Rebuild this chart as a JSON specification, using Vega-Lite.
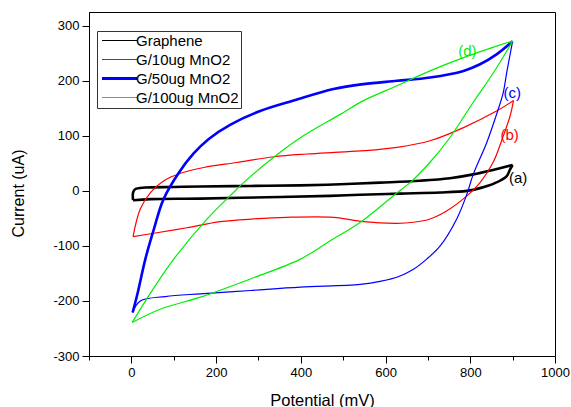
{
  "$schema": "https://vega.github.io/schema/vega-lite/v6.json",
  "width": 466,
  "height": 344,
  "autosize": {"type": "none"},
  "padding": {"left": 89, "top": 12, "right": 16, "bottom": 51},
  "background": "white",
  "config": {
    "view": {"stroke": "black", "strokeWidth": 1},
    "font": "Liberation Sans",
    "axis": {"grid": false, "domainColor": "black", "tickColor": "black", "labelColor": "black", "titleColor": "black", "labelFont": "Liberation Sans", "titleFont": "Liberation Sans", "titleFontWeight": "normal", "labelFontSize": 13, "labelFlush": false, "labelOverlap": false, "labelBound": false}
  },
  "datasets": {
    "cv": [
      {"s":"Graphene","dir":"f","i":1,"v":4,"c":-17},{"s":"Graphene","dir":"f","i":2,"v":4,"c":-3},{"s":"Graphene","dir":"f","i":3,"v":9,"c":3},{"s":"Graphene","dir":"f","i":4,"v":33,"c":6},{"s":"Graphene","dir":"f","i":5,"v":100,"c":7},{"s":"Graphene","dir":"f","i":6,"v":163,"c":8},{"s":"Graphene","dir":"f","i":7,"v":281,"c":9},{"s":"Graphene","dir":"f","i":8,"v":399,"c":10},{"s":"Graphene","dir":"f","i":9,"v":493,"c":12},{"s":"Graphene","dir":"f","i":10,"v":587,"c":15},{"s":"Graphene","dir":"f","i":11,"v":682,"c":18.5},{"s":"Graphene","dir":"f","i":12,"v":752,"c":23},{"s":"Graphene","dir":"f","i":13,"v":807,"c":30},{"s":"Graphene","dir":"f","i":14,"v":858,"c":39},{"s":"Graphene","dir":"f","i":15,"v":900,"c":47},
      {"s":"Graphene","dir":"r","i":16,"v":900,"c":47},{"s":"Graphene","dir":"r","i":17,"v":894,"c":39},{"s":"Graphene","dir":"r","i":18,"v":886,"c":27},{"s":"Graphene","dir":"r","i":19,"v":858,"c":14},{"s":"Graphene","dir":"r","i":20,"v":823,"c":5},{"s":"Graphene","dir":"r","i":21,"v":792,"c":0},{"s":"Graphene","dir":"r","i":22,"v":729,"c":-3},{"s":"Graphene","dir":"r","i":23,"v":634,"c":-5},{"s":"Graphene","dir":"r","i":24,"v":540,"c":-7},{"s":"Graphene","dir":"r","i":25,"v":469,"c":-9},{"s":"Graphene","dir":"r","i":26,"v":351,"c":-11},{"s":"Graphene","dir":"r","i":27,"v":163,"c":-14},{"s":"Graphene","dir":"r","i":28,"v":45,"c":-15},{"s":"Graphene","dir":"r","i":29,"v":4,"c":-17},

      {"s":"G/10ug MnO2","dir":"f","i":1,"v":4,"c":-83},{"s":"G/10ug MnO2","dir":"f","i":2,"v":21,"c":-33},{"s":"G/10ug MnO2","dir":"f","i":3,"v":45,"c":-3},{"s":"G/10ug MnO2","dir":"f","i":4,"v":76,"c":18},{"s":"G/10ug MnO2","dir":"f","i":5,"v":116,"c":32},{"s":"G/10ug MnO2","dir":"f","i":6,"v":171,"c":42.5},{"s":"G/10ug MnO2","dir":"f","i":7,"v":249,"c":51.6},{"s":"G/10ug MnO2","dir":"f","i":8,"v":336,"c":62},{"s":"G/10ug MnO2","dir":"f","i":9,"v":414,"c":67},{"s":"G/10ug MnO2","dir":"f","i":10,"v":480,"c":70},{"s":"G/10ug MnO2","dir":"f","i":11,"v":550,"c":73},{"s":"G/10ug MnO2","dir":"f","i":12,"v":627,"c":79},{"s":"G/10ug MnO2","dir":"f","i":13,"v":705,"c":91},{"s":"G/10ug MnO2","dir":"f","i":14,"v":784,"c":115},{"s":"G/10ug MnO2","dir":"f","i":15,"v":862,"c":145},{"s":"G/10ug MnO2","dir":"f","i":16,"v":902,"c":164},
      {"s":"G/10ug MnO2","dir":"r","i":17,"v":902,"c":164},{"s":"G/10ug MnO2","dir":"r","i":18,"v":894,"c":136},{"s":"G/10ug MnO2","dir":"r","i":19,"v":878,"c":100},{"s":"G/10ug MnO2","dir":"r","i":20,"v":854,"c":52},{"s":"G/10ug MnO2","dir":"r","i":21,"v":823,"c":15},{"s":"G/10ug MnO2","dir":"r","i":22,"v":792,"c":-9},{"s":"G/10ug MnO2","dir":"r","i":23,"v":745,"c":-36},{"s":"G/10ug MnO2","dir":"r","i":24,"v":705,"c":-51},{"s":"G/10ug MnO2","dir":"r","i":25,"v":666,"c":-57},{"s":"G/10ug MnO2","dir":"r","i":26,"v":627,"c":-59},{"s":"G/10ug MnO2","dir":"r","i":27,"v":548,"c":-56},{"s":"G/10ug MnO2","dir":"r","i":28,"v":477,"c":-48},{"s":"G/10ug MnO2","dir":"r","i":29,"v":367,"c":-48},{"s":"G/10ug MnO2","dir":"r","i":30,"v":289,"c":-51},{"s":"G/10ug MnO2","dir":"r","i":31,"v":210,"c":-56},{"s":"G/10ug MnO2","dir":"r","i":32,"v":131,"c":-67},{"s":"G/10ug MnO2","dir":"r","i":33,"v":53,"c":-77},{"s":"G/10ug MnO2","dir":"r","i":34,"v":4,"c":-83},

      {"s":"G/50ug MnO2","dir":"f","i":1,"v":3,"c":-221},{"s":"G/50ug MnO2","dir":"f","i":2,"v":15,"c":-185},{"s":"G/50ug MnO2","dir":"f","i":3,"v":33,"c":-124},{"s":"G/50ug MnO2","dir":"f","i":4,"v":53,"c":-70},{"s":"G/50ug MnO2","dir":"f","i":5,"v":76,"c":-15},{"s":"G/50ug MnO2","dir":"f","i":6,"v":112,"c":33},{"s":"G/50ug MnO2","dir":"f","i":7,"v":147,"c":68},{"s":"G/50ug MnO2","dir":"f","i":8,"v":182,"c":94},{"s":"G/50ug MnO2","dir":"f","i":9,"v":233,"c":120},{"s":"G/50ug MnO2","dir":"f","i":10,"v":304,"c":145},{"s":"G/50ug MnO2","dir":"f","i":11,"v":383,"c":164},{"s":"G/50ug MnO2","dir":"f","i":12,"v":477,"c":185},{"s":"G/50ug MnO2","dir":"f","i":13,"v":548,"c":194},{"s":"G/50ug MnO2","dir":"f","i":14,"v":627,"c":200},{"s":"G/50ug MnO2","dir":"f","i":15,"v":705,"c":206},{"s":"G/50ug MnO2","dir":"f","i":16,"v":784,"c":218},{"s":"G/50ug MnO2","dir":"f","i":17,"v":823,"c":230},{"s":"G/50ug MnO2","dir":"f","i":18,"v":862,"c":248},{"s":"G/50ug MnO2","dir":"f","i":19,"v":900,"c":272},
      {"s":"G/50ug MnO2","dir":"r","i":20,"v":900,"c":272},{"s":"G/50ug MnO2","dir":"r","i":21,"v":886,"c":215},{"s":"G/50ug MnO2","dir":"r","i":22,"v":878,"c":179},{"s":"G/50ug MnO2","dir":"r","i":23,"v":862,"c":139},{"s":"G/50ug MnO2","dir":"r","i":24,"v":839,"c":88},{"s":"G/50ug MnO2","dir":"r","i":25,"v":807,"c":30},{"s":"G/50ug MnO2","dir":"r","i":26,"v":792,"c":-6},{"s":"G/50ug MnO2","dir":"r","i":27,"v":768,"c":-51},{"s":"G/50ug MnO2","dir":"r","i":28,"v":729,"c":-100},{"s":"G/50ug MnO2","dir":"r","i":29,"v":697,"c":-124},{"s":"G/50ug MnO2","dir":"r","i":30,"v":665,"c":-143},{"s":"G/50ug MnO2","dir":"r","i":31,"v":630,"c":-156},{"s":"G/50ug MnO2","dir":"r","i":32,"v":590,"c":-164},{"s":"G/50ug MnO2","dir":"r","i":33,"v":540,"c":-170},{"s":"G/50ug MnO2","dir":"r","i":34,"v":399,"c":-175},{"s":"G/50ug MnO2","dir":"r","i":35,"v":281,"c":-181},{"s":"G/50ug MnO2","dir":"r","i":36,"v":163,"c":-187},{"s":"G/50ug MnO2","dir":"r","i":37,"v":80,"c":-192},{"s":"G/50ug MnO2","dir":"r","i":38,"v":21,"c":-200},{"s":"G/50ug MnO2","dir":"r","i":39,"v":3,"c":-221},

      {"s":"G/100ug MnO2","dir":"f","i":1,"v":2,"c":-239},{"s":"G/100ug MnO2","dir":"f","i":2,"v":50,"c":-180},{"s":"G/100ug MnO2","dir":"f","i":3,"v":100,"c":-124},{"s":"G/100ug MnO2","dir":"f","i":4,"v":179,"c":-51},{"s":"G/100ug MnO2","dir":"f","i":5,"v":233,"c":-9},{"s":"G/100ug MnO2","dir":"f","i":6,"v":265,"c":15},{"s":"G/100ug MnO2","dir":"f","i":7,"v":336,"c":61},{"s":"G/100ug MnO2","dir":"f","i":8,"v":406,"c":100},{"s":"G/100ug MnO2","dir":"f","i":9,"v":493,"c":139},{"s":"G/100ug MnO2","dir":"f","i":10,"v":548,"c":164},{"s":"G/100ug MnO2","dir":"f","i":11,"v":627,"c":191},{"s":"G/100ug MnO2","dir":"f","i":12,"v":705,"c":218},{"s":"G/100ug MnO2","dir":"f","i":13,"v":784,"c":242},{"s":"G/100ug MnO2","dir":"f","i":14,"v":862,"c":263},{"s":"G/100ug MnO2","dir":"f","i":15,"v":900,"c":272},
      {"s":"G/100ug MnO2","dir":"r","i":16,"v":900,"c":272},{"s":"G/100ug MnO2","dir":"r","i":17,"v":855,"c":215},{"s":"G/100ug MnO2","dir":"r","i":18,"v":807,"c":161},{"s":"G/100ug MnO2","dir":"r","i":19,"v":752,"c":97},{"s":"G/100ug MnO2","dir":"r","i":20,"v":705,"c":52},{"s":"G/100ug MnO2","dir":"r","i":21,"v":658,"c":15},{"s":"G/100ug MnO2","dir":"r","i":22,"v":623,"c":-6},{"s":"G/100ug MnO2","dir":"r","i":23,"v":544,"c":-55},{"s":"G/100ug MnO2","dir":"r","i":24,"v":469,"c":-91},{"s":"G/100ug MnO2","dir":"r","i":25,"v":399,"c":-124},{"s":"G/100ug MnO2","dir":"r","i":26,"v":281,"c":-160},{"s":"G/100ug MnO2","dir":"r","i":27,"v":163,"c":-193},{"s":"G/100ug MnO2","dir":"r","i":28,"v":68,"c":-215},{"s":"G/100ug MnO2","dir":"r","i":29,"v":2,"c":-239}
    ],
    "tags": [
      {"s":"Graphene","t":"(a)","v":913,"c":23},
      {"s":"G/10ug MnO2","t":"(b)","v":893,"c":101},
      {"s":"G/50ug MnO2","t":"(c)","v":899,"c":178},
      {"s":"G/100ug MnO2","t":"(d)","v":793,"c":255}
    ]
  },
  "layer": [
    {
      "data": {"name": "cv"},
      "mark": {"type": "line", "clip": true, "interpolate": "catmull-rom"},
      "encoding": {
        "x": {"field": "v", "type": "quantitative",
          "scale": {"domain": [-100, 1000], "nice": false, "zero": false},
          "axis": {"title": "Potential (mV)", "values": [-100,0,100,200,300,400,500,600,700,800,900,1000],
            "labelExpr": "datum.value % 200 === 0 && datum.value >= 0 ? '' + datum.value : ''",
            "tickSize": {"condition": {"test": "datum.value % 200 === 0", "value": 7}, "value": 4},
            "labelPadding": 3, "titleFontSize": 16.5, "titleY": 49, "titleBaseline": "alphabetic"}},
        "y": {"field": "c", "type": "quantitative",
          "scale": {"domain": [-300, 325], "nice": false, "zero": false},
          "axis": {"title": "Current (uA)", "values": [-300,-275,-250,-225,-200,-175,-150,-125,-100,-75,-50,-25,0,25,50,75,100,125,150,175,200,225,250,275,300],
            "labelExpr": "datum.value % 50 === 0 ? '' + datum.value : ''",
            "tickSize": {"condition": {"test": "datum.value % 50 === 0", "value": 7}, "value": 4},
            "labelPadding": 3, "titleFontSize": 16, "titleX": -66, "titleY": 181, "titleBaseline": "alphabetic"}},
        "color": {"field": "s", "type": "nominal",
          "scale": {"domain": ["Graphene", "G/10ug MnO2", "G/50ug MnO2", "G/100ug MnO2"], "range": ["#000000", "#ff0000", "#0000ff", "#00ee00"]},
          "legend": {"title": null, "orient": "none", "legendX": 8, "legendY": 19, "symbolType": "stroke", "symbolSize": 1225, "symbolOffset": 13,
            "labelFontSize": 15, "labelFont": "Liberation Sans", "labelColor": "black", "labelOffset": 9, "padding": 2, "rowPadding": 3,
            "strokeColor": "#333333", "fillColor": "white",
            "encode": {"symbols": {"update": {"strokeWidth": {"signal": "datum.value === 'G/50ug MnO2' ? 3 : 1"}}}}}},
        "detail": {"field": "dir"},
        "order": {"field": "i", "type": "quantitative"},
        "strokeWidth": {"condition": {"test": "datum.s === 'Graphene' || (datum.s === 'G/50ug MnO2' && datum.dir === 'f')", "value": 2.6}, "value": 1.2}
      }
    },
    {
      "data": {"name": "tags"},
      "mark": {"type": "text", "fontSize": 15, "font": "Liberation Sans"},
      "encoding": {
        "x": {"field": "v", "type": "quantitative"},
        "y": {"field": "c", "type": "quantitative"},
        "text": {"field": "t"},
        "color": {"field": "s", "type": "nominal",
          "scale": {"domain": ["Graphene", "G/10ug MnO2", "G/50ug MnO2", "G/100ug MnO2"], "range": ["#000000", "#ff0000", "#0000ff", "#00ee00"]},
          "legend": null}
      }
    }
  ],
  "resolve": {"scale": {"color": "independent"}}
}
